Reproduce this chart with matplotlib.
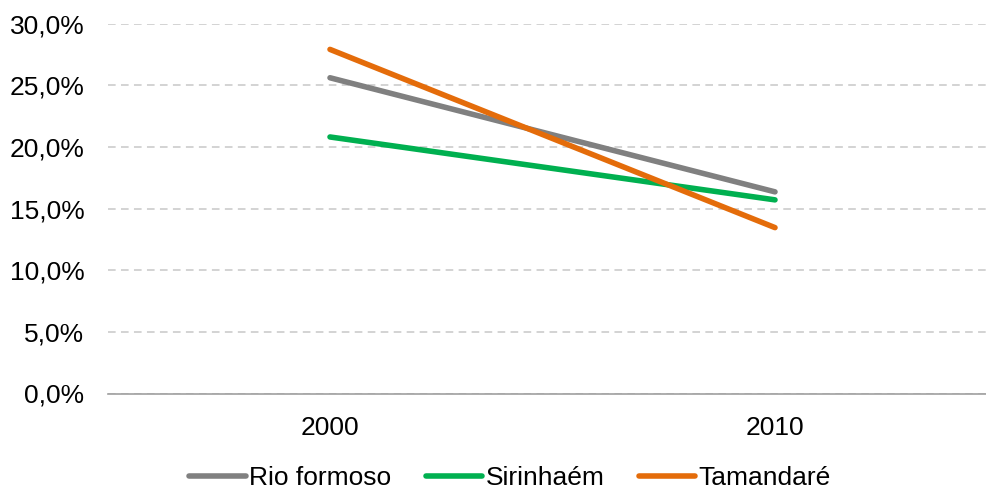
import numpy as np
import matplotlib.pyplot as plt
from matplotlib.ticker import FuncFormatter

years = ['2000', '2010']
rio_formoso = [25.6, 16.35]
sirinhaem = [20.8, 15.7]
tamandare = [27.9, 13.45]

series_names = ['Rio formoso', 'Sirinhaém', 'Tamandaré']
series_colors = ['#808080', '#00B050', '#E46C0A']

plt.rcParams['font.family'] = ['Liberation Sans', 'DejaVu Sans']

fig = plt.figure(figsize=(9.86, 4.90), dpi=100)
ax = fig.add_axes([108 / 986, 1 - 393.5 / 490, 878 / 986, 370 / 490])

x = np.arange(len(years))
for vals, name, col in zip([rio_formoso, sirinhaem, tamandare], series_names, series_colors):
    ax.plot(x, vals, color=col, lw=4, solid_capstyle='round', label=name)

ax.set_ylim(0, 30)
ax.set_yticks(np.arange(0, 31, 5))
ax.yaxis.set_major_formatter(FuncFormatter(lambda v, p: f'{v:.1f}%'.replace('.', ',')))
ax.set_xlim(-222 / 445, 1 + 211 / 445)
ax.set_xticks(x)
ax.set_xticklabels(years)

ax.grid(axis='y', color='#C8C8C8', ls=(0, (5, 3.5)), lw=1.1)
ax.set_axisbelow(True)
for s in ['top', 'right', 'left']:
    ax.spines[s].set_visible(False)
ax.spines['bottom'].set_color('#A0A0A0')
ax.spines['bottom'].set_linewidth(1.2)
ax.tick_params(axis='both', length=0, labelsize=19, colors='black')
ax.tick_params(axis='y', pad=17)
ax.tick_params(axis='x', pad=16)

fig.legend(loc='center', bbox_to_anchor=(510 / 986, 1 - 478 / 490), ncol=3, frameon=False,
           fontsize=19, handlelength=2.15, handletextpad=0.12, columnspacing=1.3,
           borderaxespad=0, borderpad=0)

fig.savefig('out.png', dpi=100)
